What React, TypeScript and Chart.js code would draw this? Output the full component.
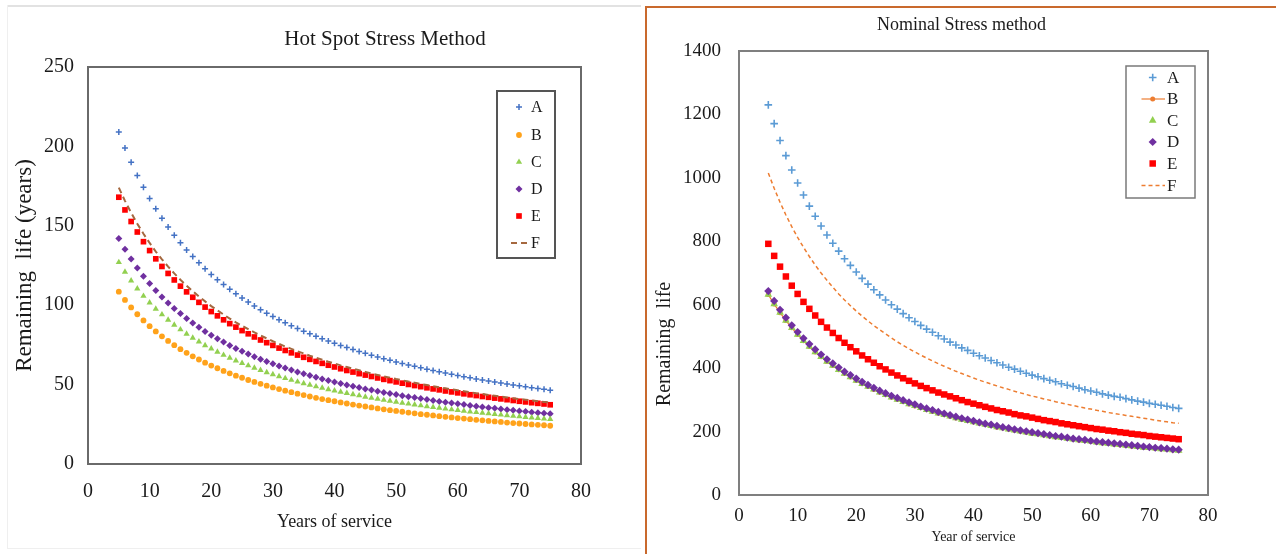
import React, { useEffect, useRef } from 'react';
import { Chart, registerables } from 'chart.js';
import { drawPoint } from 'chart.js/helpers';

Chart.register(...registerables);

const FONT = '"Liberation Serif", "Times New Roman", serif';
const TEXT = '#1a1a1a';

// ---------- DATA ----------
const years = [
  5, 6, 7, 8, 9, 10, 11, 12, 13, 14,
  15, 16, 17, 18, 19, 20, 21, 22, 23, 24,
  25, 26, 27, 28, 29, 30, 31, 32, 33, 34,
  35, 36, 37, 38, 39, 40, 41, 42, 43, 44,
  45, 46, 47, 48, 49, 50, 51, 52, 53, 54,
  55, 56, 57, 58, 59, 60, 61, 62, 63, 64,
  65, 66, 67, 68, 69, 70, 71, 72, 73, 74,
  75,
];

const xTicks = [0, 10, 20, 30, 40, 50, 60, 70, 80];
const hotSpotYTicks = [0, 50, 100, 150, 200, 250];
const nominalYTicks = [0, 200, 400, 600, 800, 1000, 1200, 1400];
const seriesLabels = ['A', 'B', 'C', 'D', 'E', 'F'];

// Hot Spot Stress Method
const hsA = [
  209.0, 199.0, 190.0, 181.7, 174.2, 167.2, 160.8, 154.8, 149.3, 144.1,
  139.3, 134.8, 130.6, 126.7, 122.9, 119.4, 116.1, 113.0, 110.0, 107.2,
  104.5, 102.0, 99.5, 97.2, 95.0, 92.9, 90.9, 88.9, 87.1, 85.3,
  83.6, 82.0, 80.4, 78.9, 77.4, 76.0, 74.6, 73.3, 72.1, 70.8,
  69.7, 68.5, 67.4, 66.3, 65.3, 64.3, 63.3, 62.4, 61.5, 60.6,
  59.7, 58.9, 58.1, 57.3, 56.5, 55.7, 55.0, 54.3, 53.6, 52.9,
  52.3, 51.6, 51.0, 50.4, 49.8, 49.2, 48.6, 48.0, 47.5, 47.0,
  46.4,
];
const hsB = [
  108.5, 103.3, 98.6, 94.3, 90.4, 86.8, 83.5, 80.4, 77.5, 74.8,
  72.3, 70.0, 67.8, 65.8, 63.8, 62.0, 60.3, 58.6, 57.1, 55.6,
  54.3, 52.9, 51.7, 50.5, 49.3, 48.2, 47.2, 46.2, 45.2, 44.3,
  43.4, 42.5, 41.7, 40.9, 40.2, 39.5, 38.8, 38.1, 37.4, 36.8,
  36.2, 35.6, 35.0, 34.4, 33.9, 33.4, 32.9, 32.4, 31.9, 31.4,
  31.0, 30.6, 30.1, 29.7, 29.3, 28.9, 28.6, 28.2, 27.8, 27.5,
  27.1, 26.8, 26.5, 26.1, 25.8, 25.5, 25.2, 24.9, 24.7, 24.4,
  24.1,
];
const hsC = [
  127.0, 121.0, 115.5, 110.4, 105.8, 101.6, 97.7, 94.1, 90.7, 87.6,
  84.7, 81.9, 79.4, 77.0, 74.7, 72.6, 70.6, 68.6, 66.8, 65.1,
  63.5, 62.0, 60.5, 59.1, 57.7, 56.4, 55.2, 54.0, 52.9, 51.8,
  50.8, 49.8, 48.8, 47.9, 47.0, 46.2, 45.4, 44.6, 43.8, 43.1,
  42.3, 41.6, 41.0, 40.3, 39.7, 39.1, 38.5, 37.9, 37.4, 36.8,
  36.3, 35.8, 35.3, 34.8, 34.3, 33.9, 33.4, 33.0, 32.6, 32.2,
  31.8, 31.4, 31.0, 30.6, 30.2, 29.9, 29.5, 29.2, 28.9, 28.5,
  28.2,
];
const hsD = [
  142.0, 135.2, 129.1, 123.5, 118.3, 113.6, 109.2, 105.2, 101.4, 97.9,
  94.7, 91.6, 88.8, 86.1, 83.5, 81.1, 78.9, 76.8, 74.7, 72.8,
  71.0, 69.3, 67.6, 66.0, 64.5, 63.1, 61.7, 60.4, 59.2, 58.0,
  56.8, 55.7, 54.6, 53.6, 52.6, 51.6, 50.7, 49.8, 49.0, 48.1,
  47.3, 46.6, 45.8, 45.1, 44.4, 43.7, 43.0, 42.4, 41.8, 41.2,
  40.6, 40.0, 39.4, 38.9, 38.4, 37.9, 37.4, 36.9, 36.4, 35.9,
  35.5, 35.1, 34.6, 34.2, 33.8, 33.4, 33.0, 32.6, 32.3, 31.9,
  31.6,
];
const hsE = [
  168.0, 160.0, 152.7, 146.1, 140.0, 134.4, 129.2, 124.4, 120.0, 115.9,
  112.0, 108.4, 105.0, 101.8, 98.8, 96.0, 93.3, 90.8, 88.4, 86.2,
  84.0, 82.0, 80.0, 78.1, 76.4, 74.7, 73.0, 71.5, 70.0, 68.6,
  67.2, 65.9, 64.6, 63.4, 62.2, 61.1, 60.0, 58.9, 57.9, 56.9,
  56.0, 55.1, 54.2, 53.3, 52.5, 51.7, 50.9, 50.1, 49.4, 48.7,
  48.0, 47.3, 46.7, 46.0, 45.4, 44.8, 44.2, 43.6, 43.1, 42.5,
  42.0, 41.5, 41.0, 40.5, 40.0, 39.5, 39.1, 38.6, 38.2, 37.8,
  37.3,
];
const hsF = [
  174.0, 165.7, 158.2, 151.3, 145.0, 139.2, 133.8, 128.9, 124.3, 120.0,
  116.0, 112.3, 108.8, 105.5, 102.4, 99.4, 96.7, 94.1, 91.6, 89.2,
  87.0, 84.9, 82.9, 80.9, 79.1, 77.3, 75.7, 74.0, 72.5, 71.0,
  69.6, 68.2, 66.9, 65.7, 64.4, 63.3, 62.1, 61.1, 60.0, 59.0,
  58.0, 57.0, 56.1, 55.2, 54.4, 53.5, 52.7, 51.9, 51.2, 50.4,
  49.7, 49.0, 48.3, 47.7, 47.0, 46.4, 45.8, 45.2, 44.6, 44.1,
  43.5, 43.0, 42.4, 41.9, 41.4, 40.9, 40.5, 40.0, 39.5, 39.1,
  38.7,
];

// Nominal Stress method
const nsA = [
  1230, 1171, 1118, 1070, 1025, 984, 946, 911, 879, 848,
  820, 794, 769, 745, 724, 703, 683, 665, 647, 631,
  615, 600, 586, 572, 559, 547, 535, 523, 513, 502,
  492, 482, 473, 464, 456, 447, 439, 432, 424, 417,
  410, 403, 397, 390, 384, 378, 373, 367, 362, 357,
  351, 346, 342, 337, 332, 328, 324, 319, 315, 311,
  308, 304, 300, 296, 293, 289, 286, 283, 280, 276,
  273,
];
const nsB = [
  632, 602, 575, 550, 527, 506, 486, 468, 451, 436,
  421, 408, 395, 383, 372, 361, 351, 342, 333, 324,
  316, 308, 301, 294, 287, 281, 275, 269, 263, 258,
  253, 248, 243, 238, 234, 230, 226, 222, 218, 214,
  211, 207, 204, 201, 198, 194, 192, 189, 186, 183,
  181, 178, 176, 173, 171, 169, 166, 164, 162, 160,
  158, 156, 154, 152, 150, 149, 147, 145, 144, 142,
  140,
];
const nsC = [
  632, 602, 575, 550, 527, 506, 486, 468, 451, 436,
  421, 408, 395, 383, 372, 361, 351, 342, 333, 324,
  316, 308, 301, 294, 287, 281, 275, 269, 263, 258,
  253, 248, 243, 238, 234, 230, 226, 222, 218, 214,
  211, 207, 204, 201, 198, 194, 192, 189, 186, 183,
  181, 178, 176, 173, 171, 169, 166, 164, 162, 160,
  158, 156, 154, 152, 150, 149, 147, 145, 144, 142,
  140,
];
const nsD = [
  643, 612, 584, 559, 535, 514, 494, 476, 459, 443,
  428, 415, 402, 389, 378, 367, 357, 347, 338, 329,
  321, 313, 306, 299, 292, 286, 279, 273, 268, 262,
  257, 252, 247, 242, 238, 234, 229, 225, 222, 218,
  214, 211, 207, 204, 201, 198, 195, 192, 189, 186,
  184, 181, 178, 176, 174, 171, 169, 167, 165, 163,
  161, 159, 157, 155, 153, 151, 149, 148, 146, 144,
  143,
];
const nsE = [
  792, 754, 720, 689, 660, 634, 609, 587, 566, 546,
  528, 511, 495, 480, 466, 453, 440, 428, 417, 406,
  396, 386, 377, 368, 360, 352, 344, 337, 330, 323,
  317, 311, 305, 299, 293, 288, 283, 278, 273, 268,
  264, 260, 255, 251, 248, 244, 240, 236, 233, 230,
  226, 223, 220, 217, 214, 211, 208, 206, 203, 201,
  198, 196, 193, 191, 189, 186, 184, 182, 180, 178,
  176,
];
const nsF = [
  1015, 967, 923, 883, 846, 812, 781, 752, 725, 700,
  677, 655, 634, 615, 597, 580, 564, 549, 534, 521,
  508, 495, 483, 472, 461, 451, 441, 432, 423, 414,
  406, 398, 390, 383, 376, 369, 362, 356, 350, 344,
  338, 333, 327, 322, 317, 312, 308, 303, 299, 294,
  290, 286, 282, 278, 274, 271, 267, 264, 260, 257,
  254, 251, 248, 245, 242, 239, 236, 233, 231, 228,
  226,
];

// ---------- STYLES ----------
type Spec = {
  label: string;
  values: number[];
  style: string;
  radius: number;
  color: string;
  pbw: number;
  line?: { width: number; dash: number[] };
  order: number;
};

const hotSpotSpecs: Spec[] = [
  { label: seriesLabels[0], values: hsA, style: 'cross', radius: 3, color: '#4472C4', pbw: 1.5, order: 1 },
  { label: seriesLabels[1], values: hsB, style: 'circle', radius: 2.9, color: '#FFA21A', pbw: 0, order: 2 },
  { label: seriesLabels[2], values: hsC, style: 'triangle', radius: 3.6, color: '#92D050', pbw: 0, order: 2 },
  { label: seriesLabels[3], values: hsD, style: 'rectRot', radius: 3.5, color: '#7030A0', pbw: 0, order: 2 },
  { label: seriesLabels[4], values: hsE, style: 'rect', radius: 4, color: '#FF0000', pbw: 0, order: 3 },
  { label: seriesLabels[5], values: hsF, style: 'circle', radius: 0, color: '#A5683F', pbw: 0, line: { width: 2, dash: [6, 4] }, order: 1 },
];

const nominalSpecs: Spec[] = [
  { label: seriesLabels[0], values: nsA, style: 'cross', radius: 3.8, color: '#5B9BD5', pbw: 1.6, order: 1 },
  { label: seriesLabels[1], values: nsB, style: 'circle', radius: 2.5, color: '#ED7D31', pbw: 0, line: { width: 1.2, dash: [] }, order: 9 },
  { label: seriesLabels[2], values: nsC, style: 'triangle', radius: 4.4, color: '#92D050', pbw: 0, order: 4 },
  { label: seriesLabels[3], values: nsD, style: 'rectRot', radius: 4.1, color: '#7030A0', pbw: 0, order: 3 },
  { label: seriesLabels[4], values: nsE, style: 'rect', radius: 4.6, color: '#FF0000', pbw: 0, order: 2 },
  { label: seriesLabels[5], values: nsF, style: 'circle', radius: 0, color: '#ED7D31', pbw: 0, line: { width: 1.5, dash: [4, 3] }, order: 1 },
];

// ---------- PLUGINS ----------
function framePlugin(color: string, width: number) {
  return {
    id: 'frame',
    afterDraw(chart: any) {
      const { ctx, chartArea: a } = chart;
      ctx.save();
      ctx.strokeStyle = color;
      ctx.lineWidth = width;
      ctx.strokeRect(a.left, a.top, a.right - a.left, a.bottom - a.top);
      ctx.restore();
    },
  };
}

type TextItem = { text: string; x: number; y: number; size: number; rotate?: number };
function textPlugin(items: TextItem[]) {
  return {
    id: 'texts',
    afterDraw(chart: any) {
      const ctx = chart.ctx;
      items.forEach((t) => {
        ctx.save();
        ctx.font = `${t.size}px ${FONT}`;
        ctx.fillStyle = TEXT;
        ctx.textAlign = 'center';
        ctx.textBaseline = 'middle';
        ctx.translate(t.x, t.y);
        if (t.rotate) ctx.rotate((t.rotate * Math.PI) / 180);
        ctx.fillText(t.text, 0, 0);
        ctx.restore();
      });
    },
  };
}

type LegendLayout = {
  box: { x: number; y: number; w: number; h: number };
  rows: number[];
  markerX: number;
  lineX0: number;
  lineX1: number;
  textX: number;
  size: number;
  border: string;
  borderWidth: number;
};
function legendPlugin(specs: Spec[], L: LegendLayout) {
  return {
    id: 'boxLegend',
    afterDraw(chart: any) {
      const ctx = chart.ctx;
      ctx.save();
      ctx.fillStyle = '#ffffff';
      ctx.fillRect(L.box.x, L.box.y, L.box.w, L.box.h);
      ctx.strokeStyle = L.border;
      ctx.lineWidth = L.borderWidth;
      ctx.strokeRect(L.box.x, L.box.y, L.box.w, L.box.h);
      specs.forEach((s, i) => {
        const y = L.rows[i];
        if (s.line) {
          ctx.save();
          ctx.strokeStyle = s.color;
          ctx.lineWidth = s.line.width;
          ctx.setLineDash(s.line.dash);
          ctx.beginPath();
          ctx.moveTo(L.lineX0, y);
          ctx.lineTo(L.lineX1, y);
          ctx.stroke();
          ctx.restore();
        }
        if (s.radius > 0) {
          ctx.save();
          ctx.fillStyle = s.color;
          ctx.strokeStyle = s.color;
          ctx.lineWidth = s.pbw;
          drawPoint(ctx, { pointStyle: s.style as any, radius: s.radius, borderWidth: s.pbw, rotation: 0 } as any, L.markerX, y);
          ctx.restore();
        }
        ctx.fillStyle = TEXT;
        ctx.font = `${L.size}px ${FONT}`;
        ctx.textAlign = 'left';
        ctx.textBaseline = 'middle';
        ctx.fillText(s.label, L.textX, y + 1);
      });
      ctx.restore();
    },
  };
}

// ---------- CONFIG ----------
type PanelCfg = {
  specs: Spec[];
  yTicks: number[];
  padding: { left: number; right: number; top: number; bottom: number };
  yWidth: number;
  xHeight: number;
  tickSize: number;
  yTickPad: number;
  xTickPad: number;
  xTitle: string;
  xTitleSize: number;
  xTitlePad: number;
  yTitle?: string;
  yTitleSize?: number;
  yTitlePad?: number;
  frameColor: string;
  frameWidth: number;
  texts: TextItem[];
  legend: LegendLayout;
};

function buildConfig(p: PanelCfg): any {
  const datasets = p.specs.map((s) => ({
    label: s.label,
    data: years.map((x, i) => ({ x, y: s.values[i] })),
    showLine: !!s.line,
    borderColor: s.color,
    backgroundColor: s.color,
    borderWidth: s.line ? s.line.width : 0,
    borderDash: s.line ? s.line.dash : [],
    pointStyle: s.style,
    pointRadius: s.radius,
    pointHoverRadius: s.radius,
    pointBackgroundColor: s.color,
    pointBorderColor: s.color,
    pointBorderWidth: s.pbw,
    order: s.order,
    tension: 0,
    fill: false,
  }));
  const yMin = p.yTicks[0];
  const yMax = p.yTicks[p.yTicks.length - 1];
  const yStep = p.yTicks[1] - p.yTicks[0];
  return {
    type: 'scatter',
    data: { datasets },
    options: {
      responsive: false,
      animation: false,
      events: [],
      layout: { padding: p.padding },
      plugins: {
        legend: { display: false },
        title: { display: false },
        tooltip: { enabled: false },
      },
      scales: {
        x: {
          type: 'linear',
          min: xTicks[0],
          max: xTicks[xTicks.length - 1],
          grid: { display: false, drawTicks: false },
          border: { display: false },
          ticks: {
            stepSize: xTicks[1] - xTicks[0],
            autoSkip: false,
            maxRotation: 0,
            padding: p.xTickPad,
            color: TEXT,
            font: { family: FONT, size: p.tickSize },
            callback: (v: any) => String(v),
          },
          title: {
            display: true,
            text: p.xTitle,
            color: TEXT,
            font: { family: FONT, size: p.xTitleSize },
            padding: { top: 0, bottom: p.xTitlePad },
          },
          afterFit: (s: any) => {
            s.height = p.xHeight;
            s.paddingLeft = 0;
            s.paddingRight = 0;
            s.paddingTop = 0;
            s.paddingBottom = 0;
          },
        },
        y: {
          type: 'linear',
          min: yMin,
          max: yMax,
          grid: { display: false, drawTicks: false },
          border: { display: false },
          ticks: {
            stepSize: yStep,
            autoSkip: false,
            padding: p.yTickPad,
            color: TEXT,
            font: { family: FONT, size: p.tickSize },
            callback: (v: any) => String(v),
          },
          title: {
            display: !!p.yTitle,
            text: p.yTitle || '',
            color: TEXT,
            font: { family: FONT, size: p.yTitleSize || 12 },
            padding: { top: p.yTitlePad || 0, bottom: 0 },
          },
          afterFit: (s: any) => {
            s.width = p.yWidth;
            s.paddingLeft = 0;
            s.paddingRight = 0;
            s.paddingTop = 0;
            s.paddingBottom = 0;
          },
        },
      },
    },
    plugins: [framePlugin(p.frameColor, p.frameWidth), legendPlugin(p.specs, p.legend), textPlugin(p.texts)],
  };
}

const hotSpotPanel: PanelCfg = {
  specs: hotSpotSpecs,
  yTicks: hotSpotYTicks,
  padding: { left: 0, right: 59, top: 67, bottom: 0 },
  yWidth: 88,
  xHeight: 90,
  tickSize: 20,
  yTickPad: 14,
  xTickPad: 16,
  xTitle: 'Years of service',
  xTitleSize: 18,
  xTitlePad: 21,
  yTitle: 'Remaining  life (years)',
  yTitleSize: 23,
  yTitlePad: 11,
  frameColor: '#6a6a6a',
  frameWidth: 2,
  texts: [{ text: 'Hot Spot Stress Method', x: 385, y: 39, size: 21 }],
  legend: {
    box: { x: 497, y: 91, w: 58, h: 167 },
    rows: [107, 135, 162, 189, 216, 243],
    markerX: 519,
    lineX0: 511,
    lineX1: 529,
    textX: 531,
    size: 16,
    border: '#555555',
    borderWidth: 2,
  },
};

const nominalPanel: PanelCfg = {
  specs: nominalSpecs,
  yTicks: nominalYTicks,
  padding: { left: 0, right: 68, top: 51, bottom: 0 },
  yWidth: 99,
  xHeight: 59,
  tickSize: 19,
  yTickPad: 18,
  xTickPad: 10,
  xTitle: 'Year of service',
  xTitleSize: 14,
  xTitlePad: 8.6,
  frameColor: '#7f7f7f',
  frameWidth: 2,
  texts: [
    { text: 'Nominal Stress method', x: 321.5, y: 25, size: 18 },
    { text: 'Remaining  life', x: 25, y: 344, size: 20, rotate: -90 },
  ],
  legend: {
    box: { x: 486, y: 66, w: 69, h: 132 },
    rows: [77.5, 99, 120.5, 142, 163.5, 185.5],
    markerX: 512.7,
    lineX0: 501.5,
    lineX1: 525,
    textX: 527,
    size: 17,
    border: '#7a7a7a',
    borderWidth: 1.5,
  },
};

function PanelChart({ w, h, cfg }: { w: number; h: number; cfg: PanelCfg }) {
  const ref = useRef<HTMLCanvasElement>(null);
  useEffect(() => {
    const chart = new Chart(ref.current as HTMLCanvasElement, buildConfig(cfg));
    return () => chart.destroy();
  }, [cfg]);
  return <canvas ref={ref} width={w} height={h} style={{ display: 'block', width: w, height: h }} />;
}

export default function App() {
  return (
    <div style={{ position: 'absolute', left: 0, top: 0, width: 1276, height: 554, background: '#ffffff', overflow: 'hidden' }}>
      <div style={{ position: 'absolute', left: 0, top: 0 }}>
        <PanelChart w={640} h={554} cfg={hotSpotPanel} />
      </div>
      <div style={{ position: 'absolute', left: 640, top: 0 }}>
        <PanelChart w={636} h={554} cfg={nominalPanel} />
      </div>
      <div style={{ position: 'absolute', left: 7, top: 5, width: 634, height: 2, background: '#e2e2e2' }} />
      <div style={{ position: 'absolute', left: 7, top: 5, width: 1, height: 544, background: '#efefef' }} />
      <div style={{ position: 'absolute', left: 7, top: 548, width: 634, height: 1, background: '#efefef' }} />
      <div style={{ position: 'absolute', left: 645, top: 6, width: 1.5, height: 548, background: '#C9692D' }} />
      <div style={{ position: 'absolute', left: 645, top: 6, width: 631, height: 1.5, background: '#C9692D' }} />
    </div>
  );
}
